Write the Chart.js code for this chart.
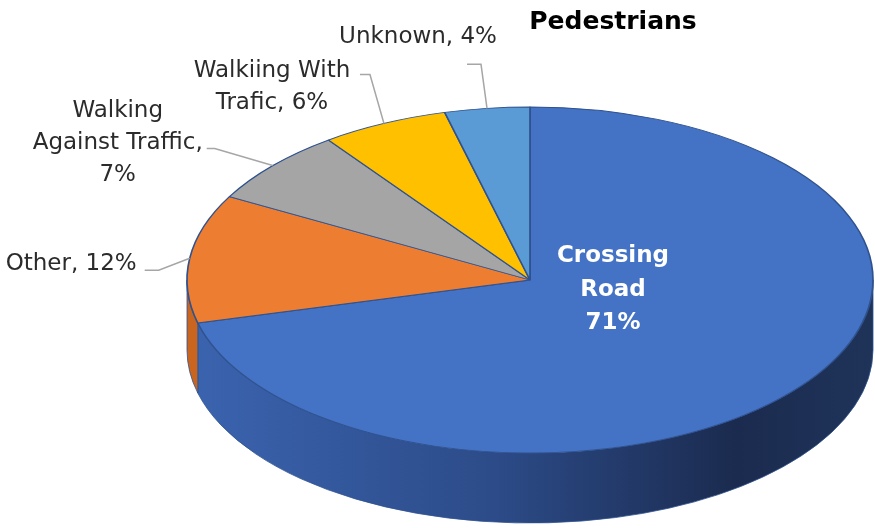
<!DOCTYPE html>
<html>
<head>
<meta charset="utf-8">
<script src="https://cdn.jsdelivr.net/npm/chart.js@4/dist/chart.umd.min.js"></script>
<style>
html,body{margin:0;padding:0;background:#ffffff;}
#wrap{width:875px;height:528px;position:relative;}
</style>
</head>
<body>
<div id="wrap"><canvas id="c" width="875" height="528"></canvas></div>
<script>
// ---- data ----
const categories = ['Crossing Road', 'Other', 'Walking Against Traffic', 'Walkiing With Trafic', 'Unknown'];
const values = [71, 12, 7, 6, 4];
const chartTitle = 'Pedestrians';

// ---- styles ----
const topColors = ['#4472C4', '#ED7D31', '#A5A5A5', '#FFC000', '#5B9BD5'];
const wallStops = [
  [[0, '#3b64b0'], [0.45, '#2c4b88'], [0.8, '#1b2b4f'], [1, '#1f3359']],
  [[0, '#c9651f'], [1, '#c9651f']],
  [[0, '#7f7f7f'], [1, '#7f7f7f']],
  [[0, '#c79600'], [1, '#c79600']],
  [[0, '#3f77aa'], [1, '#3f77aa']]
];
const GEO = {cx: 530, cy: 280, rx: 343, ry: 173, depth: 70};
const FONT = '"DejaVu Sans", sans-serif';
// label layout: words per line, elbow offset, stub, text block centre offset, align
const LABELS = [
  {inside: true, lines: [1, 1], dx: 83, dy: 10, lh: 33.5},
  {lines: [2], elbow: [-31, 12], stub: -14, text: [-53, 6], align: 'right', lh: 32},
  {lines: [1, 2, 1], elbow: [-58, -17], stub: -8, text: [-155, -23], align: 'center', lh: 32},
  {lines: [2, 2], elbow: [-14, -49], stub: -10, text: [-112, -36], align: 'center', lh: 32},
  {lines: [2], elbow: [-6, -44], stub: -14, text: [-69, -71], align: 'center', lh: 32}
];

function labelLines(i) {
  const L = LABELS[i];
  const words = categories[i].split(' ');
  const out = [];
  let k = 0;
  if (L.inside) {
    L.lines.forEach(n => { out.push(words.slice(k, k + n).join(' ')); k += n; });
    out.push(values[i] + '%');
    return out;
  }
  const all = (categories[i] + ', ' + values[i] + '%').split(' ');
  L.lines.forEach(n => { out.push(all.slice(k, k + n).join(' ')); k += n; });
  if (k < all.length) out[out.length - 1] += ' ' + all.slice(k).join(' ');
  return out;
}

const pie3d = {
  id: 'pie3d',
  beforeDatasetsDraw(chart) {
    const meta = chart.getDatasetMeta(0);
    const a0 = meta.data[0].getProps(['x', 'y', 'outerRadius'], true);
    const x = a0.x, y = a0.y, r = a0.outerRadius;
    const ctx = chart.ctx;
    const sx = GEO.rx / r, sy = GEO.ry / r;
    ctx.save();
    ctx.translate(GEO.cx, GEO.cy);
    ctx.scale(sx, sy);
    ctx.translate(-x, -y);
    const dk = GEO.depth / sy;
    meta.data.forEach((arc, i) => {
      const p = arc.getProps(['startAngle', 'endAngle'], true);
      const a = Math.max(p.startAngle, 0), b = Math.min(p.endAngle, Math.PI);
      if (b <= a) return;
      const g = ctx.createLinearGradient(x - r, 0, x + r, 0);
      wallStops[i].forEach(s => g.addColorStop(s[0], s[1]));
      ctx.beginPath();
      ctx.arc(x, y, r, a, b);
      ctx.arc(x, y + dk, r, b, a, true);
      ctx.closePath();
      ctx.fillStyle = g;
      ctx.fill();
      ctx.save();
      ctx.setTransform(1, 0, 0, 1, 0, 0);
      ctx.lineWidth = 0.8;
      ctx.strokeStyle = '#2f528f';
      ctx.stroke();
      ctx.restore();
    });
  },
  afterDatasetsDraw(chart) {
    const ctx = chart.ctx;
    ctx.restore();
    const meta = chart.getDatasetMeta(0);
    ctx.save();
    meta.data.forEach((arc, i) => {
      const p = arc.getProps(['startAngle', 'endAngle'], true);
      const L = LABELS[i];
      const lines = labelLines(i);
      if (L.inside) {
        ctx.fillStyle = '#ffffff';
        ctx.font = 'bold 23px ' + FONT;
        ctx.textAlign = 'center';
        ctx.textBaseline = 'middle';
        const bx = GEO.cx + L.dx, by = GEO.cy + L.dy;
        lines.forEach((t, j) => ctx.fillText(t, bx, by + (j - (lines.length - 1) / 2) * L.lh));
        return;
      }
      const m = (p.startAngle + p.endAngle) / 2;
      const ax = GEO.cx + GEO.rx * Math.cos(m);
      const ay = GEO.cy + GEO.ry * Math.sin(m);
      const ex = ax + L.elbow[0], ey = ay + L.elbow[1];
      ctx.beginPath();
      ctx.moveTo(ax, ay);
      ctx.lineTo(ex, ey);
      ctx.lineTo(ex + L.stub, ey);
      ctx.strokeStyle = '#a6a6a6';
      ctx.lineWidth = 1.5;
      ctx.stroke();
      ctx.fillStyle = '#2b2b2b';
      ctx.font = '23px ' + FONT;
      ctx.textAlign = L.align;
      ctx.textBaseline = 'middle';
      const tx = ax + L.text[0], ty = ay + L.text[1];
      lines.forEach((t, j) => ctx.fillText(t, tx, ty + (j - (lines.length - 1) / 2) * L.lh));
    });
    // title
    ctx.fillStyle = '#000000';
    ctx.font = 'bold 25px ' + FONT;
    ctx.textAlign = 'center';
    ctx.textBaseline = 'middle';
    ctx.fillText(chartTitle, 613, 22);
    ctx.restore();
  }
};

new Chart(document.getElementById('c'), {
  type: 'pie',
  data: {
    labels: categories,
    datasets: [{
      data: values,
      backgroundColor: topColors,
      borderColor: '#2f528f',
      borderWidth: 1.3,
      clip: false
    }]
  },
  options: {
    responsive: false,
    animation: false,
    events: [],
    layout: {padding: 0},
    plugins: {legend: {display: false}, tooltip: {enabled: false}, title: {display: false}}
  },
  plugins: [pie3d]
});
</script>
</body>
</html>
